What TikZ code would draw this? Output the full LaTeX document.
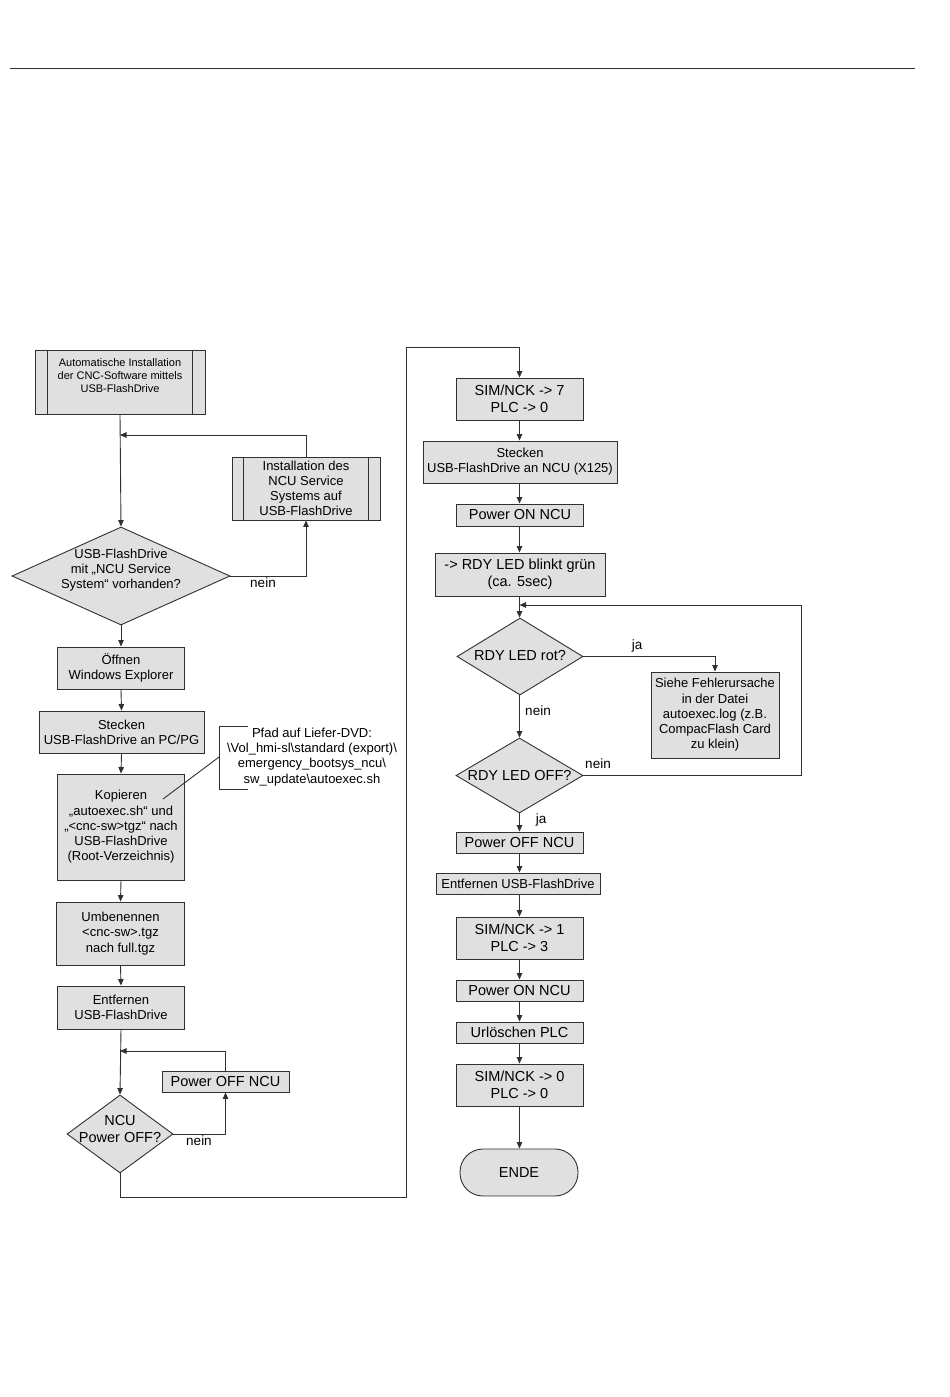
\documentclass[tikz,border=0pt]{standalone}
\usepackage{fontspec}
\setmainfont{Liberation Sans}
\usetikzlibrary{shapes.geometric,arrows.meta}
\definecolor{boxgray}{HTML}{E0E0E0}
\definecolor{linec}{HTML}{303030}
\begin{document}
\begin{tikzpicture}[x=1pt,y=-1pt,
  bigf/.style={font=\fontsize{14.5}{17}\selectfont},
  medf/.style={font=\fontsize{13}{15.2}\selectfont},
  smallf/.style={font=\fontsize{11}{13}\selectfont},
  box/.style={draw=linec,fill=boxgray,line width=0.9pt,inner sep=0pt,align=center},
  dia/.style={diamond,draw=linec,fill=boxgray,line width=0.9pt,inner sep=0pt},
  txt/.style={inner sep=0pt,align=center},
  conn/.style={draw=linec,line width=0.9pt},
  arr/.style={conn,-{Triangle[length=6.5pt,width=5.5pt]}},
  lbl/.style={inner sep=0pt,font=\fontsize{13.5}{16}\selectfont}]
\useasboundingbox (0,0) rectangle (950,1397);
% header rule
\coordinate (hl) at (10,68);
\coordinate (hr) at (915,68);
\draw[conn] (hl) -- (hr);

% ---------- left column ----------
\node[box,minimum width=170pt,minimum height=64pt] (start) at (120,382) {};
\node[txt,smallf] (starttxt) at (120,376) {Automatische Installation\\der CNC-Software mittels\\USB-FlashDrive};
\draw[conn] ([xshift=13pt]start.north west) -- ([xshift=13pt]start.south west);
\draw[conn] ([xshift=-13pt]start.north east) -- ([xshift=-13pt]start.south east);

\node[box,medf,minimum width=148pt,minimum height=63pt] (inst) at (306,488.5) {Installation des\\NCU Service\\Systems auf\\USB-FlashDrive};
\draw[conn] ([xshift=12pt]inst.north west) -- ([xshift=12pt]inst.south west);
\draw[conn] ([xshift=-12pt]inst.north east) -- ([xshift=-12pt]inst.south east);

\node[dia,minimum width=218pt,minimum height=98pt] (d1) at (121,576) {};
\node[txt,medf] (d1txt) at (121,570) {USB-FlashDrive\\mit „NCU Service\\System“ vorhanden?};

\node[box,medf,minimum width=127pt,minimum height=42pt] (oeff) at (121,668) {Öffnen\\Windows Explorer};
\node[box,medf,minimum width=165pt,minimum height=42pt] (stpc) at (121.5,732) {Stecken\\USB-FlashDrive an PC/PG};
\node[box,medf,minimum width=127pt,minimum height=106pt] (kop) at (121,827) {Kopieren\\„autoexec.sh“ und\\„<cnc-sw>tgz“ nach\\USB-FlashDrive\\(Root-Verzeichnis)};
\node[box,medf,minimum width=128pt,minimum height=63pt] (umb) at (120.5,933.5) {Umbenennen\\<cnc-sw>.tgz\\nach full.tgz};
\node[box,medf,minimum width=127pt,minimum height=43pt] (entf1) at (121,1007.5) {Entfernen\\USB-FlashDrive};
\node[box,bigf,minimum width=127pt,minimum height=21pt] (poff1) at (225.5,1081.5) {Power OFF NCU};
\node[dia,minimum width=106pt,minimum height=78pt] (d2) at (120,1134) {};
\node[txt,bigf] (d2txt) at (120,1129) {NCU\\Power OFF?};

% annotation
\node[txt,medf] (ann) at (312,757) {Pfad auf Liefer-DVD:\\\textbackslash{}Vol\_hmi-sl\textbackslash{}standard (export)\textbackslash{}\\emergency\_bootsys\_ncu\textbackslash{}\\sw\_update\textbackslash{}autoexec.sh};
\coordinate (a1) at (248,726);
\coordinate (a2) at (219,726);
\coordinate (a3) at (219,789);
\coordinate (a4) at (248,789);
\coordinate (a5) at (219,757);
\coordinate (a6) at (163,799);
\draw[conn] (a1) -- (a2) -- (a3) -- (a4);
\draw[conn] (a5) -- (a6);

% left connectors
\coordinate (j1) at (120,435);
\draw[arr] (start.south) -- (d1.north);
\draw[arr] (inst.north) |- (j1);
\draw[arr] (d1.east) -| (inst.south);
\node[lbl] (n1) at (263,583) {nein};
\draw[arr] (d1.south) -- (oeff.north);
\draw[arr] (oeff.south) -- (stpc.north);
\draw[arr] (stpc.south) -- (kop.north);
\draw[arr] (kop.south) -- (umb.north);
\draw[arr] (umb.south) -- (entf1.north);
\coordinate (j2) at (120,1051);
\draw[arr] (entf1.south) -- (d2.north);
\draw[arr] (poff1.north) |- (j2);
\draw[arr] (d2.east) -| (poff1.south);
\node[lbl] (n2) at (199,1141) {nein};

% ---------- right column ----------
\node[box,bigf,minimum width=127pt,minimum height=42pt] (sim7) at (519.5,399) {SIM/NCK -> 7\\PLC -> 0};
\node[box,medf,minimum width=194pt,minimum height=42pt] (stncu) at (520,462) {Stecken\\USB-FlashDrive an NCU (X125)};
\node[box,bigf,minimum width=127pt,minimum height=22pt] (pon1) at (520,515) {Power ON NCU};
\node[box,bigf,minimum width=170pt,minimum height=43pt] (blink) at (520,574.5) {-> RDY LED blinkt grün\\(ca. 5sec)};
\node[dia,minimum width=126pt,minimum height=77pt] (d3) at (520,656.5) {};
\node[txt,bigf] (d3txt) at (520,656) {RDY LED rot?};
\node[box,medf,minimum width=128pt,minimum height=86pt] (siehe) at (715,715) {Siehe Fehlerursache\\in der Datei\\autoexec.log (z.B.\\CompacFlash Card\\zu klein)};
\node[dia,minimum width=127pt,minimum height=75pt] (d4) at (519.5,775.5) {};
\node[txt,bigf] (d4txt) at (519.5,775) {RDY LED OFF?};
\node[box,bigf,minimum width=127pt,minimum height=21pt] (poff2) at (519.5,842.5) {Power OFF NCU};
\node[box,medf,minimum width=164pt,minimum height=21pt] (entf2) at (518,883.5) {Entfernen USB-FlashDrive};
\node[box,bigf,minimum width=127pt,minimum height=42pt] (sim1) at (519.5,938) {SIM/NCK -> 1\\PLC -> 3};
\node[box,bigf,minimum width=127pt,minimum height=21pt] (pon2) at (519.5,990.5) {Power ON NCU};
\node[box,bigf,minimum width=127pt,minimum height=21pt] (url) at (519.5,1032.5) {Urlöschen PLC};
\node[box,bigf,minimum width=127pt,minimum height=42pt] (sim0) at (519.5,1085) {SIM/NCK -> 0\\PLC -> 0};
\node[box,bigf,minimum width=118pt,minimum height=47pt,rounded corners=23pt] (ende) at (519,1172.5) {ENDE};

% long connector from left to right column
\coordinate (c1) at (120,1197);
\coordinate (c2) at (406,1197);
\coordinate (c3) at (406,347);
\coordinate (c4) at (519.5,347);
\draw[arr] (d2.south) -- (c1) -- (c2) -- (c3) -- (c4) -- (sim7.north);

% right connectors
\draw[arr] (sim7.south) -- (stncu.north -| sim7.south);
\draw[arr] (stncu.south -| sim7.south) -- (pon1.north -| sim7.south);
\draw[arr] (pon1.south -| sim7.south) -- (blink.north -| sim7.south);
\coordinate (j3) at (519.5,605);
\draw[arr] (blink.south -| sim7.south) -- (d3.north -| sim7.south);
\draw[arr] (d3.east) -| (siehe.north);
\node[lbl] (ja1) at (637,646) {ja};
\draw[arr] (d3.south -| sim7.south) -- (d4.north);
\node[lbl] (n3) at (538,711) {nein};
\coordinate (r1) at (801,775.5);
\draw[arr] (d4.east) -- (r1) |- (j3);
\node[lbl] (n4) at (598,764) {nein};
\draw[arr] (d4.south) -- (poff2.north);
\node[lbl] (ja2) at (541,820) {ja};
\draw[arr] (poff2.south) -- (entf2.north -| poff2.south);
\draw[arr] (entf2.south -| poff2.south) -- (sim1.north);
\draw[arr] (sim1.south) -- (pon2.north);
\draw[arr] (pon2.south) -- (url.north);
\draw[arr] (url.south) -- (sim0.north);
\draw[arr] (sim0.south) -- (ende.north -| sim0.south);
\end{tikzpicture}
\end{document}
